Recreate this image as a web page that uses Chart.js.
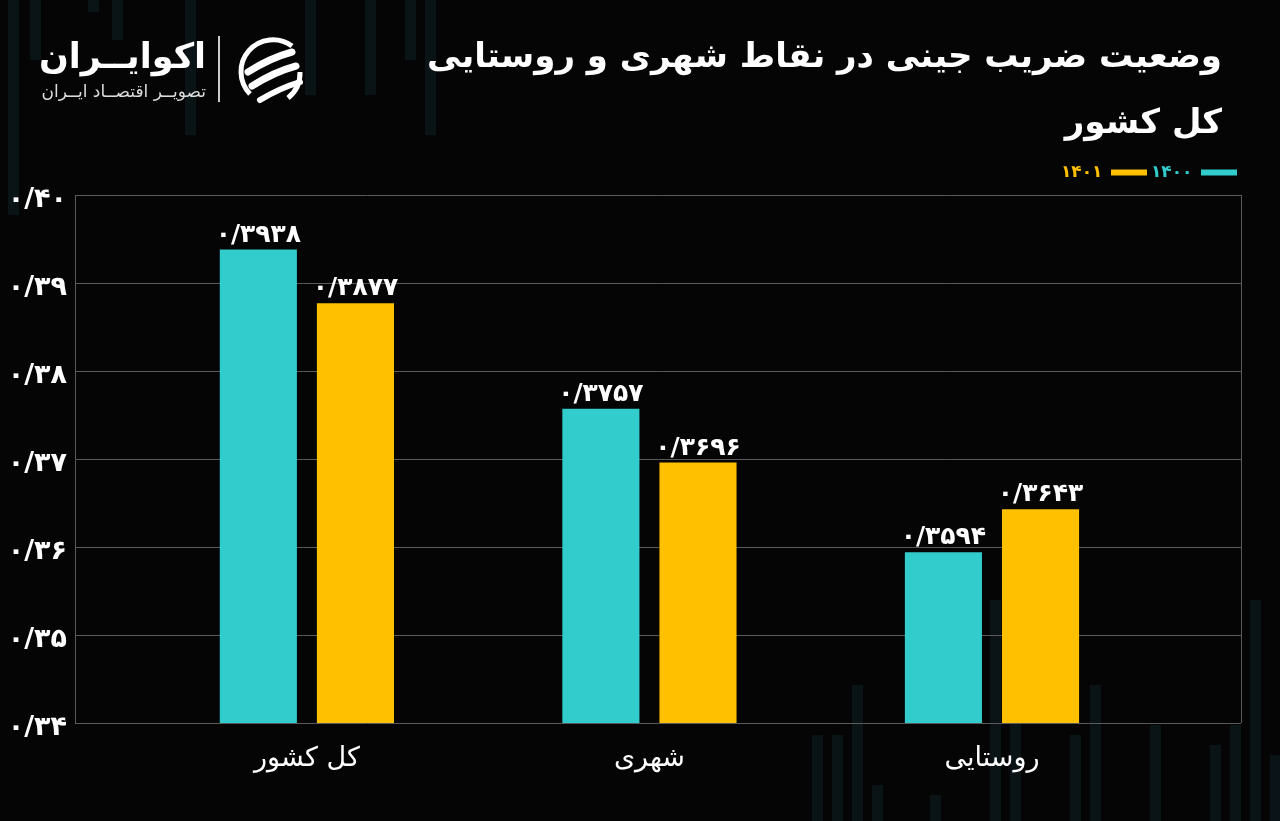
<!DOCTYPE html>
<html lang="fa">
<head>
<meta charset="utf-8">
<title>ضریب جینی</title>
<script src="https://cdn.jsdelivr.net/npm/chart.js@4.4.1/dist/chart.umd.min.js"></script>
<style>
  html, body { margin: 0; padding: 0; background: #050505; overflow: hidden; }
  #wrap { position: relative; width: 1280px; height: 821px; }
  .deco { position: absolute; width: 11px; background: rgba(22, 52, 64, 0.3); }
  #chart { position: absolute; left: 0; top: 0; }
  #title {
    position: absolute; right: 58px; top: 22px; direction: rtl; text-align: right;
    color: #fff; font: bold 34px "DejaVu Sans", sans-serif; line-height: 66px;
  }
  #logo { position: absolute; left: 48px; top: 32px; width: 270px; height: 80px; }
  #logo .name { position: absolute; right: 112px; top: 4px; color: #fff; font: bold 35px "DejaVu Sans", sans-serif; direction: rtl; white-space: nowrap; }
  #logo .sub { position: absolute; right: 112px; top: 49px; color: #ddd; font: 17px "DejaVu Sans", sans-serif; direction: rtl; white-space: nowrap; }
  #logo .sep { position: absolute; left: 170px; top: 4px; width: 2px; height: 66px; background: #ccc; }
</style>
</head>
<body>
<div id="wrap">
  <div id="decos"></div>
  <canvas id="chart" width="1280" height="821"></canvas>
  <div id="title">وضعیت ضریب جینی در نقاط شهری و روستایی<br>کل کشور</div>
  <div id="logo">
    <div class="name">اکوایــران</div>
    <div class="sub">تصویــر اقتصــاد ایــران</div>
    <div class="sep"></div>
    <svg style="position:absolute;left:182px;top:0" width="78" height="78" viewBox="0 0 78 78">
      <path d="M20 62 A32 32 0 0 1 62 14" stroke="#fff" stroke-width="5" fill="none"/>
      <path d="M58 66 A32 32 0 0 0 70 40" stroke="#fff" stroke-width="5" fill="none"/>
      <path d="M18 40 Q40 26 62 20" stroke="#fff" stroke-width="7" fill="none" stroke-linecap="round"/>
      <path d="M22 54 Q44 40 66 34" stroke="#fff" stroke-width="7" fill="none" stroke-linecap="round"/>
      <path d="M30 68 Q50 56 70 50" stroke="#fff" stroke-width="6" fill="none" stroke-linecap="round"/>
    </svg>
  </div>
</div>
<script>
const categories = ['کل کشور', 'شهری', 'روستایی'];
const seriesLabels = ['۱۴۰۰', '۱۴۰۱'];
const values1400 = [0.3938, 0.3757, 0.3594];
const values1401 = [0.3877, 0.3696, 0.3643];
const yMin = 0.34;
const yMax = 0.40;
const yStep = 0.01;

const CYAN = 'rgb(51, 204, 204)';
const YELLOW = 'rgb(255, 192, 0)';
const FONT = '"DejaVu Sans", sans-serif';

// faint background bars (decoration only)
const decoBars = [
  [8, 0, 215], [30, 0, 60], [88, 0, 12], [112, 0, 40], [185, 0, 135], [305, 0, 95], [365, 0, 95],
  [405, 0, 60], [425, 0, 135], [812, 735, 90], [832, 735, 90], [852, 685, 140], [872, 785, 40],
  [930, 795, 30], [990, 600, 225], [1010, 705, 120], [1070, 735, 90], [1090, 685, 140],
  [1150, 725, 100], [1210, 745, 80], [1230, 725, 100], [1250, 600, 225], [1270, 755, 70]
];
const decos = document.getElementById('decos');
decoBars.forEach(function (b) {
  const d = document.createElement('div');
  d.className = 'deco';
  d.style.left = b[0] + 'px';
  d.style.top = b[1] + 'px';
  d.style.height = b[2] + 'px';
  decos.appendChild(d);
});

function fa(n, digits) {
  return n.toFixed(digits).replace('.', '/').replace(/\d/g, function (d) { return '۰۱۲۳۴۵۶۷۸۹'[d]; });
}

const valueLabels = {
  id: 'valueLabels',
  afterDatasetsDraw(chart) {
    const ctx = chart.ctx;
    ctx.save();
    ctx.fillStyle = '#fff';
    ctx.font = 'bold 25px ' + FONT;
    ctx.textAlign = 'center';
    ctx.textBaseline = 'bottom';
    chart.data.datasets.forEach(function (ds, i) {
      chart.getDatasetMeta(i).data.forEach(function (bar, j) {
        ctx.fillText(fa(ds.data[j].y, 4), bar.x, bar.y - 2);
      });
    });
    ctx.restore();
  }
};

const rightBorder = {
  id: 'rightBorder',
  beforeDatasetsDraw(chart) {
    const a = chart.chartArea;
    const ctx = chart.ctx;
    ctx.save();
    ctx.strokeStyle = '#5a5a5a';
    ctx.lineWidth = 1;
    ctx.beginPath();
    ctx.moveTo(a.right + 0.5, a.top);
    ctx.lineTo(a.right + 0.5, a.bottom);
    ctx.stroke();
    ctx.restore();
  }
};

const ctx = document.getElementById('chart');

new Chart(ctx, {
  type: 'bar',
  data: {
    datasets: [
      {
        label: seriesLabels[0],
        data: values1400.map(function (v, i) { return { x: i, y: v }; }),
        backgroundColor: CYAN
      },
      {
        label: seriesLabels[1],
        data: values1401.map(function (v, i) { return { x: i, y: v }; }),
        backgroundColor: YELLOW
      }
    ]
  },
  options: {
    responsive: false,
    animation: false,
    devicePixelRatio: 1,
    categoryPercentage: 0.567,
    barPercentage: 0.794,
    layout: { padding: { top: 160, right: 39, left: 0, bottom: 0 } },
    plugins: {
      tooltip: { enabled: false },
      legend: {
        position: 'top',
        align: 'start',
        rtl: true,
        labels: {
          font: { size: 17, weight: 'bold', family: FONT },
          boxWidth: 36,
          boxHeight: 6,
          useBorderRadius: true,
          borderRadius: 3,
          padding: 4,
          generateLabels: function (chart) {
            return chart.data.datasets.map(function (ds, i) {
              return {
                text: ds.label,
                fillStyle: ds.backgroundColor,
                strokeStyle: ds.backgroundColor,
                fontColor: ds.backgroundColor,
                lineWidth: 0,
                hidden: false,
                datasetIndex: i
              };
            });
          }
        }
      }
    },
    scales: {
      x: {
        type: 'linear',
        offset: false,
        min: -0.677,
        max: 2.727,
        grid: { display: false },
        border: { display: false },
        afterBuildTicks: function (scale) {
          scale.ticks = categories.map(function (c, i) { return { value: i }; });
        },
        afterFit: function (scale) { scale.height = 98; },
        ticks: {
          autoSkip: false,
          maxRotation: 0,
          color: '#fff',
          padding: 12,
          font: { size: 27, family: FONT },
          callback: function (v) { return categories[v]; }
        }
      },
      // empty top axis, only a small gap between legend and plot
      gap: {
        type: 'linear',
        position: 'top',
        min: 0,
        max: 1,
        ticks: { display: false },
        grid: { display: false },
        border: { display: false },
        afterFit: function (scale) { scale.height = 4; }
      },
      y: {
        min: yMin,
        max: yMax,
        afterFit: function (scale) { scale.width = 75; },
        grid: { color: '#5a5a5a', drawTicks: false },
        border: { display: true, color: '#5a5a5a' },
        ticks: {
          stepSize: yStep,
          color: '#fff',
          padding: 8,
          labelOffset: 5,
          font: { size: 27, weight: 'bold', family: FONT },
          callback: function (v) { return fa(v, 2); }
        }
      }
    }
  },
  plugins: [valueLabels, rightBorder]
});
</script>
</body>
</html>
